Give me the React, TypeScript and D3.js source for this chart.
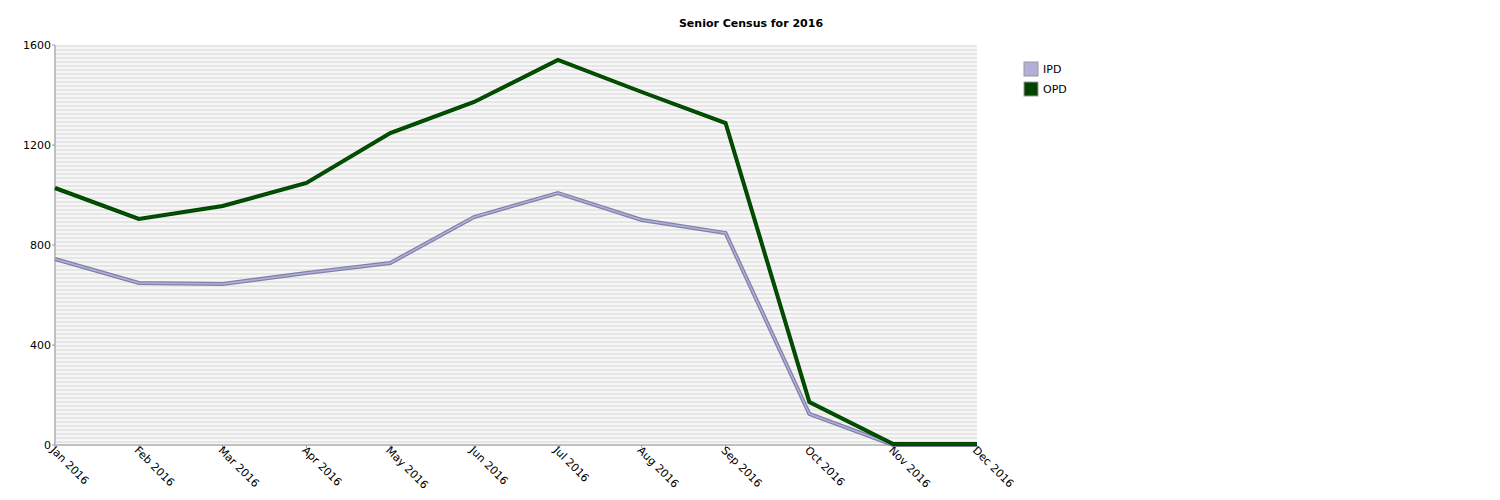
import * as d3 from 'd3'

const months = ['Jan 2016', 'Feb 2016', 'Mar 2016', 'Apr 2016', 'May 2016', 'Jun 2016', 'Jul 2016', 'Aug 2016', 'Sep 2016', 'Oct 2016', 'Nov 2016', 'Dec 2016']
const ipd = [744, 648, 644, 688, 728, 912, 1008, 900, 848, 124, 0, 0]
const opd = [1028, 904, 956, 1048, 1248, 1372, 1540, 1412, 1288, 172, 4, 4]
const yTicks = [0, 400, 800, 1200, 1600]

const margin = { top: 45, right: 523, bottom: 55, left: 55 }
const width = 1500
const height = 500

function App() {
  const x = d3.scalePoint<string>().domain(months).range([margin.left, width - margin.right])
  const y = d3.scaleLinear().domain([0, 1600]).range([height - margin.bottom, margin.top])
  const line = d3.line<number>().x((_, i) => x(months[i])!).y(d => y(d))
  const x0 = margin.left
  const x1 = width - margin.right
  const stripes = d3.range(margin.top, height - margin.bottom, 4)
  const font = 'DejaVu Sans, sans-serif'

  return (
    <svg width={width} height={height} style={{ position: 'absolute', left: 0, top: 0 }} fontFamily={font}>
      <rect width={width} height={height} fill="#fff" />
      <text x={751} y={27} textAnchor="middle" fontSize={11} fontWeight="bold">Senior Census for 2016</text>
      <rect x={x0} y={margin.top} width={x1 - x0} height={y(0) - margin.top} fill="#f7f7f7" />
      {stripes.map(s => (
        <rect key={s} x={x0} y={s} width={x1 - x0} height={2} fill="#e6e6e6" />
      ))}
      <line x1={x0} x2={x0} y1={margin.top} y2={y(0)} stroke="#c0c0c0" strokeWidth={2} />
      <line x1={x0} x2={x1} y1={y(0)} y2={y(0)} stroke="#c0c0c0" strokeWidth={2} />
      {yTicks.map(t => (
        <g key={t}>
          <line x1={x0 - 3} x2={x0} y1={y(t)} y2={y(t)} stroke="#999" />
          <text x={x0 - 4} y={y(t) + 4} textAnchor="end" fontSize={11}>{t}</text>
        </g>
      ))}
      {months.map(m => (
        <g key={m}>
          <line x1={x(m)} x2={x(m)} y1={y(0)} y2={y(0) + 3} stroke="#999" />
          <text transform={`translate(${x(m)! - 5},${y(0) + 6}) rotate(45)`} fontSize={11}>{m}</text>
        </g>
      ))}
      <path d={line(ipd)!} fill="none" stroke="#8080a8" strokeWidth={4} />
      <path d={line(ipd)!} fill="none" stroke="#b0b0d8" strokeWidth={1.5} />
      <path d={line(opd)!} fill="none" stroke="#004400" strokeWidth={4} />
      <path d={line(opd)!} fill="none" stroke="#005500" strokeWidth={1.5} />
      <rect x={1024} y={62} width={14} height={14} fill="#b0b0d8" stroke="#999" />
      <text x={1043} y={73} fontSize={11}>IPD</text>
      <rect x={1024} y={82} width={14} height={14} fill="#004400" stroke="#999" />
      <text x={1043} y={93} fontSize={11}>OPD</text>
    </svg>
  )
}

export default App
